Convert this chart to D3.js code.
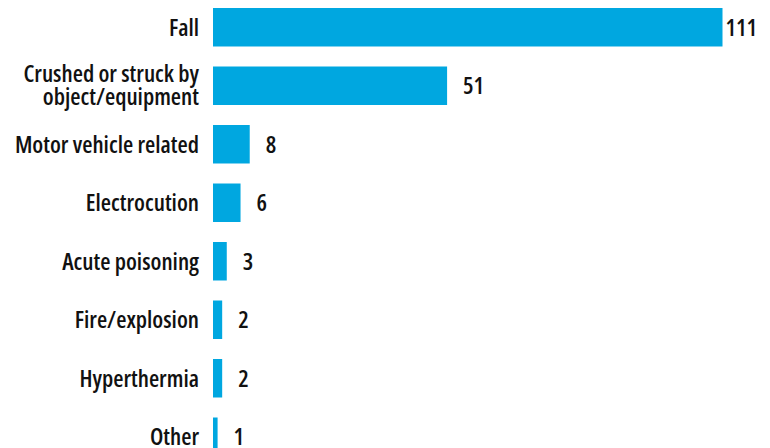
<!DOCTYPE html>
<html>
<head>
<meta charset="utf-8">
<script src="https://cdn.jsdelivr.net/npm/d3@7"></script>
<style>
  body { margin: 0; background: #fff; }
  text { font-family: "Open Sans", sans-serif; font-weight: 600; font-stretch: condensed; }
</style>
</head>
<body>
<div id="chart"></div>
<script>
// data
const categories = ["Fall", "Crushed or struck by|object/equipment", "Motor vehicle related",
  "Electrocution", "Acute poisoning", "Fire/explosion", "Hyperthermia", "Other"];
const counts = [111, 51, 8, 6, 3, 2, 2, 1];

const width = 770, height = 448;
const barColor = "#00a7e0";
const fontSize = 23.5;

const rows = categories.map((c, i) => ({ name: c, value: counts[i] }));

const svg = d3.select("#chart").append("svg")
  .attr("width", width)
  .attr("height", height);

const x = d3.scaleLinear()
  .domain([0, d3.max(counts)])
  .range([213, 722.5]);

const y = d3.scaleBand()
  .domain(categories)
  .range([8, 456])
  .paddingInner(0.342)
  .paddingOuter(0);

svg.append("g").selectAll("rect")
  .data(rows)
  .join("rect")
  .attr("x", x(0))
  .attr("y", d => y(d.name))
  .attr("width", d => x(d.value) - x(0))
  .attr("height", y.bandwidth())
  .attr("fill", barColor);

// category labels, split on | for two-line ones
const lab = svg.append("g").selectAll("text")
  .data(rows)
  .join("text")
  .attr("x", 199)
  .attr("y", d => y(d.name) + y.bandwidth() / 2)
  .attr("text-anchor", "end")
  .attr("font-size", fontSize)
  .attr("fill", "#111");

lab.each(function (d) {
  const lines = d.name.split("|");
  const t = d3.select(this);
  if (lines.length === 1) {
    t.append("tspan").attr("x", 199).attr("dy", "0.357em").text(lines[0]);
  } else {
    t.append("tspan").attr("x", 199).attr("dy", -3.8).text(lines[0]);
    t.append("tspan").attr("x", 199).attr("dy", 23.3).text(lines[1]);
  }
});

// value labels
const maxVal = d3.max(counts);
svg.append("g").selectAll("text")
  .data(rows)
  .join("text")
  .attr("x", d => x(d.value) + (d.value === maxVal ? 3 : 16))
  .attr("y", d => y(d.name) + y.bandwidth() / 2)
  .attr("dy", "0.357em")
  .attr("font-size", fontSize)
  .attr("fill", "#111")
  .text(d => d.value);
</script>
</body>
</html>
